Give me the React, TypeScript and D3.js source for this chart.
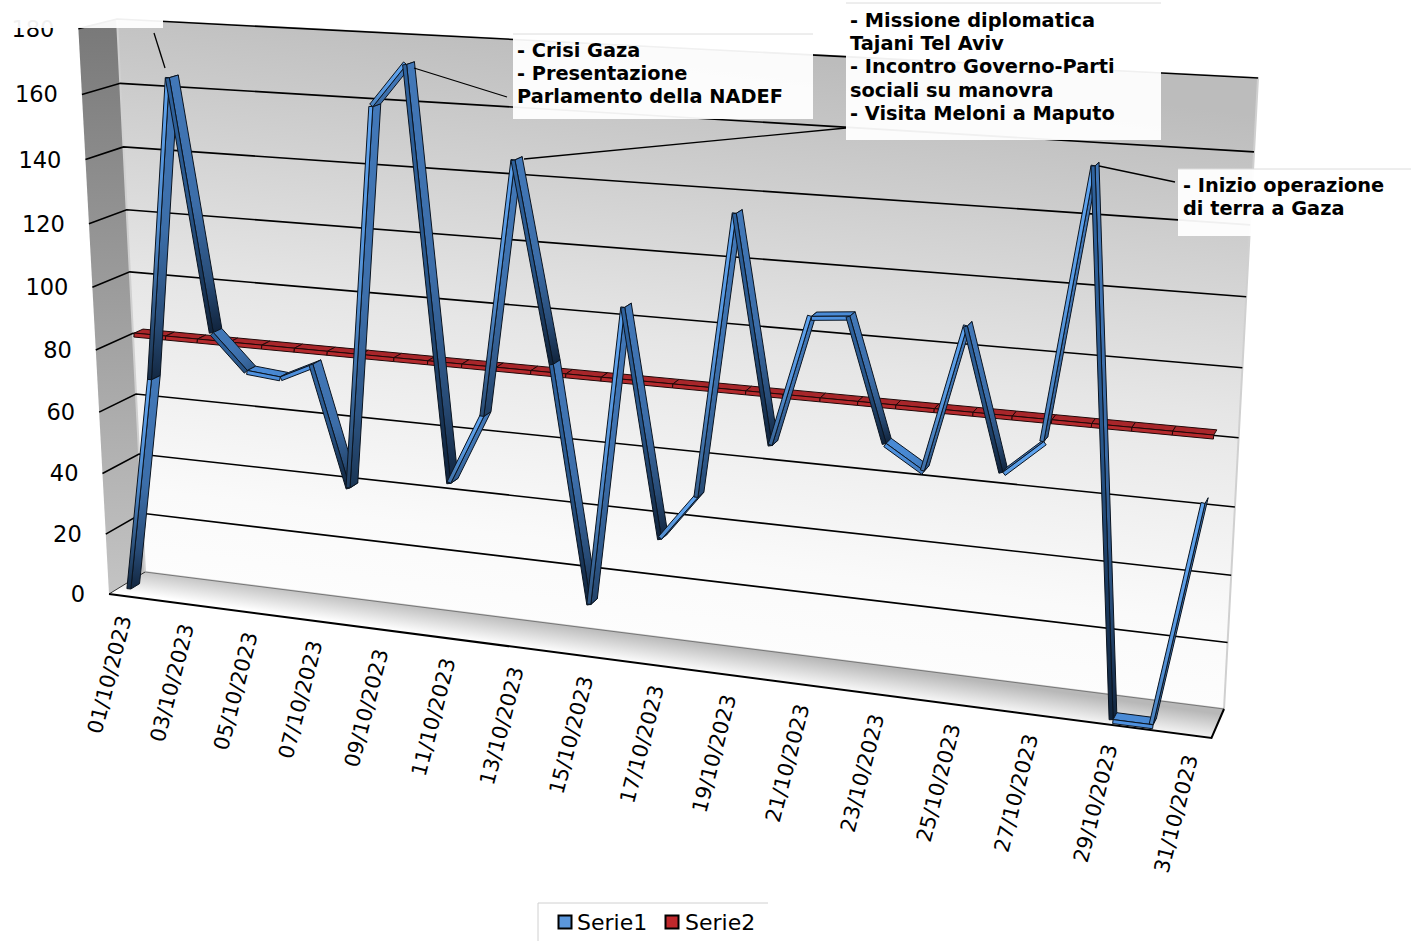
import * as d3 from 'd3';

const dates = [
  '01/10/2023', '02/10/2023', '03/10/2023', '04/10/2023', '05/10/2023', '06/10/2023', '07/10/2023', '08/10/2023',
  '09/10/2023', '10/10/2023', '11/10/2023', '12/10/2023', '13/10/2023', '14/10/2023', '15/10/2023', '16/10/2023',
  '17/10/2023', '18/10/2023', '19/10/2023', '20/10/2023', '21/10/2023', '22/10/2023', '23/10/2023', '24/10/2023',
  '25/10/2023', '26/10/2023', '27/10/2023', '28/10/2023', '29/10/2023', '30/10/2023', '31/10/2023',
];
const serie1 = [1, 71, 166, 88, 77, 76, 81, 43, 161, 174, 48, 70, 148, 88, 15, 107, 38, 52, 137, 70, 109, 110, 74, 67, 110, 69, 79, 157, 0, 0, 66];
const serie2 = [82.6, 82.6, 82.6, 82.6, 82.6, 82.6, 82.6, 82.6, 82.6, 82.6, 82.6, 82.6, 82.6, 82.6, 82.6, 82.6, 82.6, 82.6, 82.6, 82.6, 82.6, 82.6, 82.6, 82.6, 82.6, 82.6, 82.6, 82.6, 82.6, 82.6, 82.6];
const yTicks = [0, 20, 40, 60, 80, 100, 120, 140, 160, 180];
const labelledDates = dates.filter((_, i) => i % 2 === 0);

const notes = [
  { day: 2, lines: [] as string[], box: [-2, -2, 163, 28], tx: 0, ty: 0, end: [154, 33], from: [165, 68] },
  { day: 9, lines: ['- Crisi Gaza', '- Presentazione', 'Parlamento della NADEF'], box: [513, 34, 813, 119], tx: 517, ty: 57, end: [507, 97], from: [414, 68] },
  { day: 12, lines: ['- Missione diplomatica', 'Tajani Tel Aviv', '- Incontro Governo-Parti', 'sociali su manovra', '- Visita Meloni a Maputo'], box: [846, 3, 1161, 140], tx: 850, ty: 27, end: [846, 128], from: [524, 159] },
  { day: 27, lines: ['- Inizio operazione', 'di terra a Gaza'], box: [1178, 169, 1411, 236], tx: 1183, ty: 192, end: [1175, 182], from: [1099, 166] },
];

// corners of the box as they land on screen
const BL = [145, 572], BR = [1224, 709], TR = [1258, 78], TL = [117, 19];
const FL = [109, 594], FR = [1211, 738];

const dx1 = BR[0] - TR[0], dx2 = TL[0] - TR[0], sx = BL[0] - BR[0] + TR[0] - TL[0];
const dy1 = BR[1] - TR[1], dy2 = TL[1] - TR[1], sy = BL[1] - BR[1] + TR[1] - TL[1];
const den = dx1 * dy2 - dx2 * dy1;
const g = (sx * dy2 - dx2 * sy) / den;
const h = (dx1 * sy - sx * dy1) / den;
const a = BR[0] - BL[0] + g * BR[0], b = TL[0] - BL[0] + h * TL[0], c = BL[0];
const d = BR[1] - BL[1] + g * BR[1], e = TL[1] - BL[1] + h * TL[1], f = BL[1];
const k = (d + FL[1] - FR[1] * (g + 1)) / (FR[1] - FL[1]);
const cx = FL[0] * (1 + k) - c, cy = FL[1] * (1 + k) - f;

function proj(u: number, v: number, w: number): [number, number] {
  const q = g * u + h * v + 1 + k * w;
  return [(a * u + b * v + c + cx * w) / q, (d * u + e * v + f + cy * w) / q];
}

const xBand = d3.scaleBand<string>().domain(dates).range([0, 1]);
const uOf = (i: number) => (xBand(dates[i]) as number) + xBand.bandwidth() / 2;
const vOf = d3.scaleLinear().domain([0, 180]).range([0, 1]);
const poly = (pts: [number, number][]) => (d3.line()(pts) as string) + 'Z';

const BLUE_W = [0.58, 0.82];
const RED_W = [0.14, 0.38];
const WALL = 4;

type Piece = { u0: number; v0: number; u1: number; v1: number };

function pieces(vals: number[]): Piece[] {
  return vals.slice(0, -1).map((v0, i) => ({ u0: uOf(i), v0, u1: uOf(i + 1), v1: vals[i + 1] }));
}

function faces(p: Piece, ws: number[]) {
  const P0 = proj(p.u0, vOf(p.v0), ws[1]), P1 = proj(p.u1, vOf(p.v1), ws[1]);
  const Q0 = proj(p.u0, vOf(p.v0), ws[0]), Q1 = proj(p.u1, vOf(p.v1), ws[0]);
  const len = Math.hypot(P1[0] - P0[0], P1[1] - P0[1]) || 1;
  let nx = -(P1[1] - P0[1]) / len, ny = (P1[0] - P0[0]) / len;
  if (nx * (Q0[0] - P0[0]) + ny * (Q0[1] - P0[1]) > 0) { nx = -nx; ny = -ny; }
  const W0: [number, number] = [P0[0] + nx * WALL, P0[1] + ny * WALL];
  const W1: [number, number] = [P1[0] + nx * WALL, P1[1] + ny * WALL];
  return { plank: poly([P0, P1, Q1, Q0]), wall: poly([P0, P1, W1, W0]), P0, P1 };
}

const DARK = '#0e2036';

function Serie1Ribbon() {
  return (
    <g stroke="#0a1420" strokeWidth={1} strokeLinejoin="round">
      {pieces(serie1).map((p, i) => {
        const fc = faces(p, BLUE_W);
        const topFirst = fc.P0[1] <= fc.P1[1];
        const top = topFirst ? fc.P0 : fc.P1, bot = topFirst ? fc.P1 : fc.P0;
        const rising = p.v1 > p.v0;
        const height = bot[1] - top[1];
        const midU = (p.u0 + p.u1) / 2;
        const s = Math.min(1, height / 120) * (rising ? 1 - 0.75 * midU : 1);
        const flat = height < 30;
        const plankTop = flat ? '#4a8bd6' : '#4278b8';
        const wallTop = flat ? '#4f92e0' : rising ? '#5fa4f0' : '#2f639f';
        const mix = d3.interpolateRgb;
        return (
          <g key={i}>
            <defs>
              <linearGradient id={`pk${i}`} gradientUnits="userSpaceOnUse" x1={top[0]} y1={top[1]} x2={bot[0]} y2={bot[1]}>
                <stop offset="0" stopColor={plankTop} />
                <stop offset="0.5" stopColor={mix(plankTop, DARK)(0.12 * s)} />
                <stop offset="0.8" stopColor={mix(plankTop, DARK)(0.5 * s)} />
                <stop offset="1" stopColor={mix(plankTop, DARK)(0.95 * s)} />
              </linearGradient>
              <linearGradient id={`wl${i}`} gradientUnits="userSpaceOnUse" x1={top[0]} y1={top[1]} x2={bot[0]} y2={bot[1]}>
                <stop offset="0" stopColor={wallTop} />
                <stop offset="0.5" stopColor={mix(wallTop, DARK)(0.2 * s)} />
                <stop offset="1" stopColor={mix(wallTop, DARK)(0.95 * s)} />
              </linearGradient>
            </defs>
            <path d={fc.plank} fill={`url(#pk${i})`} />
            <path d={fc.wall} fill={`url(#wl${i})`} />
          </g>
        );
      })}
    </g>
  );
}

function Serie2Ribbon() {
  return (
    <g stroke="#200808" strokeWidth={1} strokeLinejoin="round">
      {pieces(serie2).map((p, i) => {
        const fc = faces(p, RED_W);
        return (
          <g key={i}>
            <path d={fc.plank} fill="#a8262a" />
            <path d={fc.wall} fill="#b52a2d" />
          </g>
        );
      })}
    </g>
  );
}

export default function App() {
  const top = vOf(180);
  const backWall = poly([proj(0, 0, 0), proj(1, 0, 0), proj(1, top, 0), proj(0, top, 0)]);
  const sideWall = poly([proj(0, 0, 0), proj(0, 0, 1), proj(0, top, 1), proj(0, top, 0)]);
  const floor = poly([proj(0, 0, 0), proj(1, 0, 0), proj(1, 0, 1), proj(0, 0, 1)]);
  const lineOf = (pts: [number, number][]) => d3.line()(pts) as string;

  return (
    <svg width={1411} height={941} style={{ position: 'absolute', left: 0, top: 0, display: 'block' }} fontFamily="'DejaVu Sans'">
      <defs>
        <linearGradient id="backFill" gradientUnits="userSpaceOnUse" x1="695" y1="45" x2="620" y2="640">
          <stop offset="0" stopColor="#bcbcbc" />
          <stop offset="0.5" stopColor="#e6e6e6" />
          <stop offset="0.85" stopColor="#fafafa" />
          <stop offset="1" stopColor="#fdfdfd" />
        </linearGradient>
        <linearGradient id="sideFill" x1="0" y1="0" x2="0" y2="1">
          <stop offset="0" stopColor="#787878" />
          <stop offset="1" stopColor="#c4c4c4" />
        </linearGradient>
        <linearGradient id="floorFill" gradientUnits="userSpaceOnUse" x1="660" y1="637" x2="656" y2="666">
          <stop offset="0" stopColor="#b8b8b8" />
          <stop offset="1" stopColor="#ffffff" />
        </linearGradient>
      </defs>

      <path d={sideWall} fill="url(#sideFill)" />
      <path d={backWall} fill="url(#backFill)" stroke="#d0d0d0" strokeWidth={2} />
      <path d={floor} fill="url(#floorFill)" />

      {yTicks.filter(t => t > 0).map(t => (
        <path
          key={t}
          d={lineOf([proj(0, vOf(t), 1), proj(0, vOf(t), 0), proj(1, vOf(t), 0)])}
          fill="none"
          stroke="#000"
          strokeWidth={1.6}
        />
      ))}
      <path d={lineOf([proj(0, 0, 0), proj(1, 0, 0)])} fill="none" stroke="#777" strokeWidth={1} />
      <path d={lineOf([proj(1, 0, 0), proj(1, 0, 1), proj(0, 0, 1)])} fill="none" stroke="#000" strokeWidth={2} />
      <path d={lineOf([proj(0, 0, 1), proj(0, 0, 0)])} fill="none" stroke="#000" strokeWidth={0.8} />

      {yTicks.map(t => {
        const [x, y] = proj(0, vOf(t), 1);
        return (
          <text key={t} x={x - 24} y={y + 8} textAnchor="end" fontSize={22.5} fill="#000">{t}</text>
        );
      })}

      {labelledDates.map(dt => {
        const [x, y] = proj((xBand(dt) as number) + xBand.bandwidth() / 2, 0, 1);
        return (
          <text key={dt} transform={`translate(${x},${y + 20}) rotate(-75.5)`} textAnchor="end" dy="0.35em" fontSize={21} fill="#000">{dt}</text>
        );
      })}

      <Serie2Ribbon />
      <Serie1Ribbon />

      {notes.map(n => (
        <g key={n.day}>
          <line x1={n.from[0]} y1={n.from[1]} x2={n.end[0]} y2={n.end[1]} stroke="#000" strokeWidth={1.3} />
          <rect x={n.box[0]} y={n.box[1]} width={n.box[2] - n.box[0]} height={n.box[3] - n.box[1]} fill="#fff" fillOpacity={0.94} />
          <line x1={n.box[0]} y1={n.box[1]} x2={n.box[2]} y2={n.box[1]} stroke="#dcdcdc" strokeWidth={1} />
          {n.lines.map((l, j) => (
            <text key={j} x={n.tx} y={n.ty + j * 23.2} fontSize={19.35} fontWeight="bold" fill="#000">{l}</text>
          ))}
        </g>
      ))}

      <path d="M538,941 V903 H768" fill="none" stroke="#d0d0d0" strokeWidth={1} />
      <rect x={558.5} y={915.5} width={13} height={13} fill="#5b97dc" stroke="#000" strokeWidth={2} />
      <text x={577} y={930} fontSize={22} fill="#000">Serie1</text>
      <rect x={665.5} y={915.5} width={13} height={13} fill="#c0282c" stroke="#000" strokeWidth={2} />
      <text x={685} y={930} fontSize={22} fill="#000">Serie2</text>
    </svg>
  );
}
